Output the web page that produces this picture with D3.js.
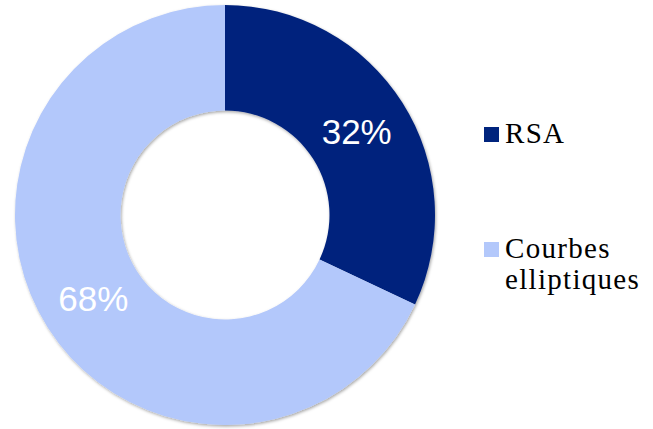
<!DOCTYPE html>
<html>
<head>
<meta charset="utf-8">
<script src="https://cdn.jsdelivr.net/npm/d3@7"></script>
<style>
  html, body { margin: 0; padding: 0; background: #fff; }
  svg { display: block; }
</style>
</head>
<body>
<div id="chart"></div>
<script>
// données
const categories = ['RSA', 'Courbes elliptiques'];
const values = [32, 68];
const legendLines = [['RSA'], ['Courbes', 'elliptiques']];
const colors = ['#00247d', '#b3c8fb'];

const width = 653, height = 429;
const cx = 225, cy = 215;
const outerR = 210, innerR = 104.5;

const svg = d3.select('#chart').append('svg')
    .attr('width', width)
    .attr('height', height);

// ombre légère
const defs = svg.append('defs');
const f = defs.append('filter').attr('id', 'shadow')
    .attr('x', '-10%').attr('y', '-10%').attr('width', '120%').attr('height', '120%');
f.append('feDropShadow')
    .attr('dx', 1).attr('dy', 1.5).attr('stdDeviation', 1.5)
    .attr('flood-color', '#000').attr('flood-opacity', 0.35);

const pie = d3.pie().sort(null).value(d => d)(values);
const arc = d3.arc().innerRadius(innerR).outerRadius(outerR);

const g = svg.append('g').attr('transform', `translate(${cx},${cy})`);

g.append('g').attr('filter', 'url(#shadow)')
  .selectAll('path')
  .data(pie)
  .join('path')
    .attr('d', arc)
    .attr('fill', (d, i) => colors[i]);

// étiquettes de pourcentage
const labelArc = d3.arc().innerRadius(156).outerRadius(156);
g.selectAll('text.pct')
  .data(pie)
  .join('text')
    .attr('class', 'pct')
    .attr('transform', d => {
        const [x, y] = labelArc.centroid(d);
        return `translate(${x},${y})`;
    })
    .attr('text-anchor', 'middle')
    .attr('dy', '0.36em')
    .attr('fill', '#fff')
    .style('font-family', '"Liberation Sans", Arial, sans-serif')
    .style('font-size', '35px')
    .text(d => d.data + '%');

// légende
const legendY = [143, 258];
const legend = svg.append('g');
categories.forEach((c, i) => {
    const lg = legend.append('g');
    lg.append('rect')
        .attr('x', 484).attr('y', legendY[i] - 16)
        .attr('width', 15).attr('height', 15)
        .attr('fill', colors[i]);
    legendLines[i].forEach((line, j) => {
        lg.append('text')
            .attr('x', 505).attr('y', legendY[i] + j * 31)
            .attr('fill', '#000')
            .style('font-family', '"Liberation Serif", "Times New Roman", serif')
            .style('font-size', '29px')
            .style('letter-spacing', '1.3px')
            .text(line);
    });
});
</script>
</body>
</html>
